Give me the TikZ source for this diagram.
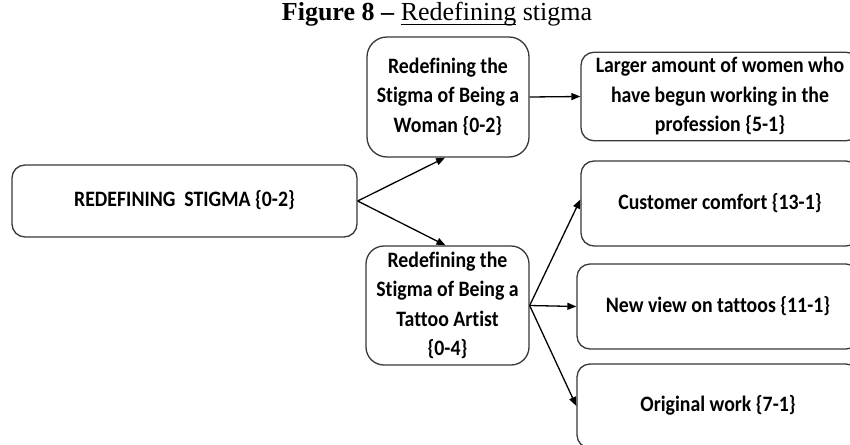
\documentclass[tikz,border=0pt]{standalone}
\usepackage{fontspec}
\usepackage{graphicx}
\setmainfont{Liberation Serif}
\newfontfamily\boxfont[Ligatures=NoCommon]{Carlito}
\usetikzlibrary{arrows.meta}
\newcommand\myul[1]{\leavevmode\sbox0{#1}\rlap{\rule[-3.6pt]{\wd0}{1pt}}\usebox0}
\newcommand\sqtext[1]{\scalebox{0.9}[1]{\begin{tabular}{@{}c@{}}#1\end{tabular}}}
\begin{document}
\begin{tikzpicture}[x=1pt,y=-1pt,
  box/.style={draw=black!78,line width=1.3pt,rounded corners=13pt,fill=white,
    inner sep=0pt,font=\boxfont\bfseries\fontsize{22}{29.5}\selectfont},
  arr/.style={line width=1.3pt,-{Triangle[length=9pt,width=7pt]}}]
\useasboundingbox (0,0) rectangle (850,444);
\clip (0,0) rectangle (850,444);
\node[anchor=base,font=\fontsize{26}{30}\selectfont] (title) at (437,21)
  {\textbf{Figure 8 –} \myul{Redefining} stigma};
\node[box,minimum width=345pt,minimum height=72pt] (main) at (184.5,201)
  {\sqtext{REDEFINING\ \ STIGMA \{0-2\}}};
\node[box,rounded corners=20pt,minimum width=162pt,minimum height=120pt] (woman) at (448,97)
  {\sqtext{Redefining the\\Stigma of Being a\\Woman \{0-2\}}};
\node[box,rounded corners=18pt,minimum width=163pt,minimum height=119pt] (tattoo) at (447.5,305.5)
  {\sqtext{Redefining the\\Stigma of Being a\\Tattoo Artist\\\{0-4\}}};
\node[box,minimum width=278pt,minimum height=85pt] (larger) at (720,96.5)
  {\sqtext{Larger amount of women who\\have begun working in the\\profession \{5-1\}}};
\node[box,minimum width=278pt,minimum height=85pt] (customer) at (720,203.5)
  {\sqtext{Customer comfort \{13-1\}}};
\node[box,minimum width=282pt,minimum height=85pt] (newview) at (718,306.5)
  {\sqtext{New view on tattoos \{11-1\}}};
\node[box,minimum width=282pt,minimum height=84pt] (original) at (718,406)
  {\sqtext{Original work \{7-1\}}};
\draw[arr] (main.east) -- ([xshift=-3pt]woman.south);
\draw[arr] (main.east) -- ([xshift=-2pt]tattoo.north);
\draw[arr] (woman.east) -- (larger.west);
\draw[arr] (tattoo.east) -- ([yshift=4pt]customer.west);
\draw[arr] (tattoo.east) -- (newview.west);
\draw[arr] (tattoo.east) -- (original.west);
\end{tikzpicture}
\end{document}
